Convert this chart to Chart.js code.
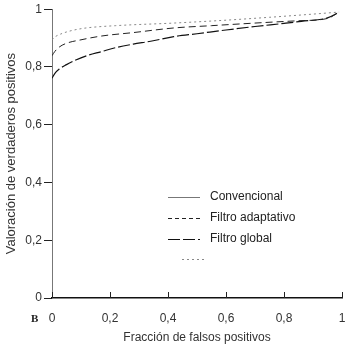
<!DOCTYPE html>
<html>
<head>
<meta charset="utf-8">
<script src="https://cdn.jsdelivr.net/npm/chart.js@4.4.1/dist/chart.umd.min.js"></script>
<style>
  html, body { margin: 0; padding: 0; background: #fff; }
  #wrap { width: 350px; height: 346px; position: relative; }
</style>
</head>
<body>
<div id="wrap"><canvas id="c" width="350" height="346"></canvas></div>
<script>
// ---- Data ----
const xTicks = [0, 0.2, 0.4, 0.6, 0.8, 1];
const yTicks = [0, 0.2, 0.4, 0.6, 0.8, 1];
const legendLabels = ["Convencional", "Filtro adaptativo", "Filtro global", ""];

// Filtro global (lowest curve)
const globalX = [0, 0.01, 0.025, 0.05, 0.08, 0.12, 0.17, 0.22, 0.28, 0.34, 0.42, 0.5, 0.6, 0.7, 0.8, 0.86, 0.95, 0.99];
const globalY = [0.761, 0.778, 0.793, 0.808, 0.823, 0.839, 0.853, 0.867, 0.879, 0.889, 0.905, 0.915, 0.928, 0.94, 0.951, 0.958, 0.97, 0.99];

// Filtro adaptativo (middle curve)
const adaptX = [0, 0.01, 0.025, 0.05, 0.1, 0.17, 0.28, 0.42, 0.55, 0.7, 0.85, 0.95, 0.99];
const adaptY = [0.839, 0.854, 0.869, 0.882, 0.894, 0.907, 0.919, 0.935, 0.943, 0.952, 0.96, 0.968, 0.99];

// Dotted (top curve)
const dotX = [0, 0.01, 0.03, 0.06, 0.11, 0.22, 0.42, 0.6, 0.75, 0.9, 0.99];
const dotY = [0.894, 0.904, 0.914, 0.924, 0.934, 0.943, 0.952, 0.962, 0.972, 0.983, 0.99];

const toPts = (xs, ys) => xs.map((x, i) => ({ x: x, y: ys[i] }));
const fmt = v => String(Math.round(v * 10) / 10).replace('.', ',');

const FONT = "'Liberation Sans', Arial, Helvetica, sans-serif";

const styles = [
  { color: '#777', dash: [], width: 1 },          // Convencional
  { color: '#222', dash: [4, 3], width: 1 },      // Filtro adaptativo
  { color: '#111', dash: [12, 3], width: 1.2 },   // Filtro global
  { color: '#888', dash: [2, 3], width: 1 }       // dotted
];

const extras = {
  id: 'extras',
  afterDraw(chart) {
    const ctx = chart.ctx;
    const xs = chart.scales.x;
    const area = chart.chartArea;
    ctx.save();
    // inward ticks on x axis
    ctx.strokeStyle = '#222';
    ctx.lineWidth = 1;
    xTicks.forEach(v => {
      const px = Math.round(xs.getPixelForValue(v)) + 0.5;
      ctx.beginPath();
      ctx.moveTo(px, area.bottom);
      ctx.lineTo(px, area.bottom - 6);
      ctx.stroke();
    });
    // legend
    ctx.font = '12px ' + FONT;
    ctx.textBaseline = 'middle';
    ctx.fillStyle = '#222';
    const rowsY = [197, 218, 239, 259];
    legendLabels.forEach((lab, i) => {
      const s = styles[i];
      ctx.strokeStyle = s.color;
      ctx.lineWidth = s.width;
      ctx.setLineDash(s.dash);
      ctx.beginPath();
      const x0 = i === 3 ? 182 : 168;
      const x1 = i === 3 ? 207 : 200;
      ctx.moveTo(x0, rowsY[i] + 0.5);
      ctx.lineTo(x1, rowsY[i] + 0.5);
      ctx.stroke();
      ctx.setLineDash([]);
      if (lab) ctx.fillText(lab, 210, rowsY[i]);
    });
    // panel letter
    ctx.font = 'bold 11px "Liberation Serif", "Times New Roman", serif';
    ctx.fillStyle = '#222';
    ctx.textAlign = 'left';
    ctx.fillText('B', 31, 319);
    ctx.restore();
  }
};

new Chart(document.getElementById('c'), {
  type: 'line',
  data: {
    datasets: [
      { label: legendLabels[3], data: toPts(dotX, dotY), borderColor: styles[3].color, borderDash: styles[3].dash, borderWidth: styles[3].width },
      { label: legendLabels[1], data: toPts(adaptX, adaptY), borderColor: styles[1].color, borderDash: [7, 4], borderWidth: styles[1].width },
      { label: legendLabels[2], data: toPts(globalX, globalY), borderColor: styles[2].color, borderDash: styles[2].dash, borderWidth: styles[2].width }
    ].map(d => Object.assign(d, { pointRadius: 0, fill: false, cubicInterpolationMode: 'monotone' }))
  },
  options: {
    responsive: false,
    animation: false,
    devicePixelRatio: 1,
    layout: { padding: { top: 6, right: 0, left: 0, bottom: 0 } },
    plugins: { legend: { display: false }, tooltip: { enabled: false } },
    scales: {
      x: {
        type: 'linear', min: 0, max: 1,
        afterBuildTicks: s => { s.ticks = xTicks.map(v => ({ value: v })); },
        afterFit: s => { s.height = 48; s.paddingRight = 8; },
        grid: { display: false, drawTicks: false },
        border: { display: true, color: '#111', width: 1.5 },
        ticks: { padding: 13, color: '#333', font: { family: FONT, size: 12 }, callback: v => fmt(v), maxRotation: 0 },
        title: { display: true, text: 'Fracción de falsos positivos', color: '#333', font: { family: FONT, size: 12 }, padding: { top: 0, bottom: 1 } }
      },
      y: {
        type: 'linear', min: 0, max: 1,
        afterBuildTicks: s => { s.ticks = yTicks.map(v => ({ value: v })); },
        afterFit: s => { s.width = 52; },
        grid: { drawOnChartArea: false, drawTicks: true, tickLength: 8, color: '#222' },
        border: { display: true, color: '#777', width: 1 },
        ticks: { padding: 2, color: '#333', font: { family: FONT, size: 12 }, callback: v => fmt(v) },
        title: { display: true, text: 'Valoración de verdaderos positivos', color: '#333', font: { family: FONT, size: 13 }, padding: { top: 4, bottom: 0 } }
      }
    }
  },
  plugins: [extras]
});
</script>
</body>
</html>
